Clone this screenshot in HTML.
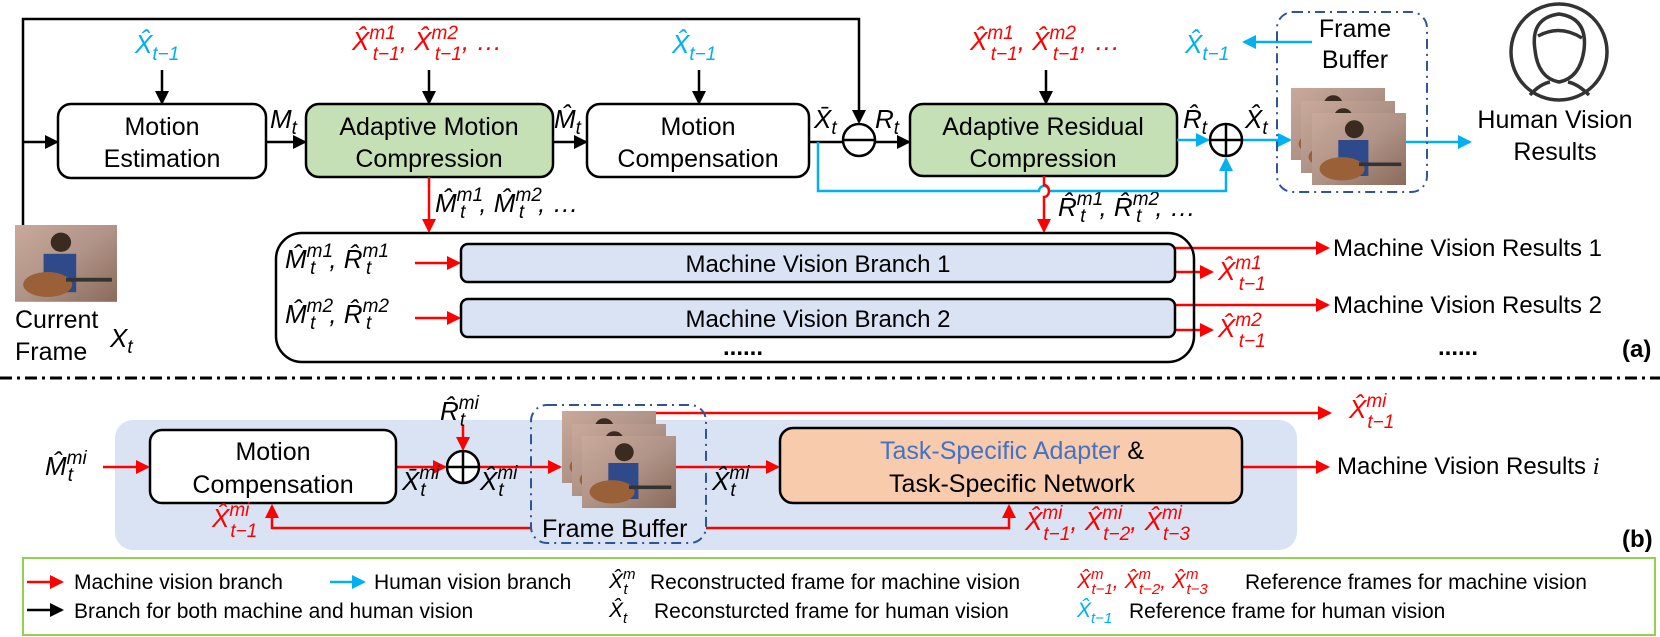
<!DOCTYPE html>
<html><head><meta charset="utf-8"><style>
html,body{margin:0;padding:0;background:#fff;}
svg{display:block;}
text{font-family:"Liberation Sans",sans-serif;}
.m{font-family:"Liberation Serif",serif;font-style:italic;}
.r{fill:#ff0000;} .b{fill:#00b0f0;}
</style></head><body>
<svg width="1660" height="637" viewBox="0 0 1660 637" xmlns="http://www.w3.org/2000/svg">
<defs>
<marker id="ak" markerWidth="14" markerHeight="14" refX="12" refY="7" orient="auto" markerUnits="userSpaceOnUse"><path d="M0,0 L14,7 L0,14 z" fill="#000"/></marker>
<marker id="ar" markerWidth="14" markerHeight="14" refX="12" refY="7" orient="auto" markerUnits="userSpaceOnUse"><path d="M0,0 L14,7 L0,14 z" fill="#ff0000"/></marker>
<marker id="ab" markerWidth="14" markerHeight="14" refX="12" refY="7" orient="auto" markerUnits="userSpaceOnUse"><path d="M0,0 L14,7 L0,14 z" fill="#00b0f0"/></marker>
<linearGradient id="img" x1="0" y1="0" x2="1" y2="1"><stop offset="0" stop-color="#c9a99a"/><stop offset="0.5" stop-color="#b09488"/><stop offset="1" stop-color="#8a6a5a"/></linearGradient>
<g id="pic"><rect width="100" height="80" fill="url(#img)"/><rect x="28" y="30" width="32" height="40" fill="#2f4a8a"/><circle cx="45" cy="18" r="10" fill="#3a2a20"/><ellipse cx="32" cy="62" rx="24" ry="13" fill="#9a6038"/><rect x="50" y="55" width="45" height="4" fill="#333"/></g>
</defs>

<!-- ===== (a) ===== -->
<g stroke="#000" stroke-width="2.5" fill="none">
<path d="M23,225 V19 H859 V122" marker-end="url(#ak)"/>
<path d="M23,142 H57" marker-end="url(#ak)"/>
<path d="M162,70 V103" marker-end="url(#ak)"/>
<path d="M429,70 V103" marker-end="url(#ak)"/>
<path d="M699,70 V103" marker-end="url(#ak)"/>
<path d="M1046,70 V103" marker-end="url(#ak)"/>
<path d="M266,142 H305" marker-end="url(#ak)"/>
<path d="M553,142 H586" marker-end="url(#ak)"/>
<path d="M809,142 H843"/>
<path d="M875,142 H909" marker-end="url(#ak)"/>
</g>
<rect x="58" y="104" width="208" height="74" rx="13" fill="#fff" stroke="#000" stroke-width="2.5"/>
<rect x="306" y="104" width="247" height="73" rx="13" fill="#c5e0b4" stroke="#000" stroke-width="2.5"/>
<rect x="587" y="104" width="222" height="73" rx="13" fill="#fff" stroke="#000" stroke-width="2.5"/>
<rect x="910" y="104" width="267" height="72" rx="13" fill="#c5e0b4" stroke="#000" stroke-width="2.5"/>
<circle cx="859" cy="140" r="16" fill="#fff" stroke="#000" stroke-width="2.5"/>
<line x1="843" y1="140" x2="875" y2="140" stroke="#000" stroke-width="2.5"/>
<g font-size="25" text-anchor="middle">
<text x="162" y="135">Motion</text><text x="162" y="167">Estimation</text>
<text x="429" y="135">Adaptive Motion</text><text x="429" y="167">Compression</text>
<text x="698" y="135">Motion</text><text x="698" y="167">Compensation</text>
<text x="1043" y="135">Adaptive Residual</text><text x="1043" y="167">Compression</text>
</g>
<g class="m" font-size="26">
<text x="135" y="53" class="b">X̂<tspan font-size="19" dy="7">t−1</tspan></text>
<text x="352" y="50" class="r">X̂<tspan font-size="19" dy="-11">m1</tspan><tspan font-size="19" dx="-23" dy="21">t−1</tspan><tspan dy="-10">, X̂</tspan><tspan font-size="19" dy="-11">m2</tspan><tspan font-size="19" dx="-23" dy="21">t−1</tspan><tspan dy="-10">, …</tspan></text>
<text x="672" y="53" class="b">X̂<tspan font-size="19" dy="7">t−1</tspan></text>
<text x="970" y="50" class="r">X̂<tspan font-size="19" dy="-11">m1</tspan><tspan font-size="19" dx="-23" dy="21">t−1</tspan><tspan dy="-10">, X̂</tspan><tspan font-size="19" dy="-11">m2</tspan><tspan font-size="19" dx="-23" dy="21">t−1</tspan><tspan dy="-10">, …</tspan></text>
<text x="1185" y="53" class="b">X̂<tspan font-size="19" dy="7">t−1</tspan></text>
<text x="270" y="128">M<tspan font-size="19" dy="6">t</tspan></text>
<text x="554" y="128">M̂<tspan font-size="19" dy="6">t</tspan></text>
<text x="814" y="128">X̄<tspan font-size="19" dy="6">t</tspan></text>
<text x="875" y="128">R<tspan font-size="19" dy="6">t</tspan></text>
<text x="1183" y="128">R̂<tspan font-size="19" dy="6">t</tspan></text>
<text x="1245" y="128">X̂<tspan font-size="19" dy="6">t</tspan></text>
<text x="435" y="212">M̂<tspan font-size="19" dy="-11">m1</tspan><tspan font-size="19" dx="-23" dy="17">t</tspan><tspan dy="-6" dx="14">, M̂</tspan><tspan font-size="19" dy="-11">m2</tspan><tspan font-size="19" dx="-23" dy="17">t</tspan><tspan dy="-6" dx="14">, …</tspan></text>
<text x="1058" y="216">R̂<tspan font-size="19" dy="-11">m1</tspan><tspan font-size="19" dx="-23" dy="17">t</tspan><tspan dy="-6" dx="14">, R̂</tspan><tspan font-size="19" dy="-11">m2</tspan><tspan font-size="19" dx="-23" dy="17">t</tspan><tspan dy="-6" dx="14">, …</tspan></text>
<text x="285" y="268">M̂<tspan font-size="19" dy="-11">m1</tspan><tspan font-size="19" dx="-23" dy="17">t</tspan><tspan dy="-6" dx="14">, R̂</tspan><tspan font-size="19" dy="-11">m1</tspan><tspan font-size="19" dx="-23" dy="17">t</tspan></text>
<text x="285" y="323">M̂<tspan font-size="19" dy="-11">m2</tspan><tspan font-size="19" dx="-23" dy="17">t</tspan><tspan dy="-6" dx="14">, R̂</tspan><tspan font-size="19" dy="-11">m2</tspan><tspan font-size="19" dx="-23" dy="17">t</tspan></text>
<text x="1218" y="280" class="r">X̂<tspan font-size="19" dy="-11">m1</tspan><tspan font-size="19" dx="-23" dy="21">t−1</tspan></text>
<text x="1218" y="337" class="r">X̂<tspan font-size="19" dy="-11">m2</tspan><tspan font-size="19" dx="-23" dy="21">t−1</tspan></text>
<text x="110" y="347">X<tspan font-size="19" dy="6">t</tspan></text>
</g>
<!-- blue paths -->
<g stroke="#00b0f0" stroke-width="2.5" fill="none">
<path d="M818,142 V191 H1039 a5,5 0 0 1 10,0 H1226 V159" marker-end="url(#ab)"/>
<path d="M1177,140 H1208" marker-end="url(#ab)"/>
<path d="M1242,140 H1290" marker-end="url(#ab)"/>
<path d="M1312,42 H1244" marker-end="url(#ab)"/>
<path d="M1406,142 H1470" marker-end="url(#ab)"/>
</g>
<circle cx="1226" cy="140" r="16" fill="#fff" stroke="#000" stroke-width="2.5"/>
<path d="M1210,140 H1242 M1226,124 V156" stroke="#000" stroke-width="2.5"/>
<rect x="1277" y="12" width="150" height="180" rx="16" fill="none" stroke="#2f5597" stroke-width="2" stroke-dasharray="10,5,2,5"/>
<text x="1355" y="37" font-size="25" text-anchor="middle">Frame</text>
<text x="1355" y="68" font-size="25" text-anchor="middle">Buffer</text>
<use href="#pic" transform="translate(1291,88) scale(0.94,0.9)"/>
<use href="#pic" transform="translate(1301,101) scale(0.94,0.9)"/>
<use href="#pic" transform="translate(1312,113) scale(0.94,0.9)"/>
<!-- human icon -->
<g fill="none" stroke="#333" stroke-width="3.5">
<circle cx="1559" cy="52" r="48"/>
<path d="M1535,50 Q1530,18 1559,14 Q1588,18 1584,50 Q1580,78 1559,82 Q1538,78 1535,50 Z"/>
<path d="M1530,95 Q1540,84 1550,82 M1589,95 Q1578,84 1568,82"/>
<path d="M1538,36 Q1560,24 1582,38"/>
</g>
<g font-size="25" text-anchor="middle"><text x="1555" y="128">Human Vision</text><text x="1555" y="160">Results</text></g>
<use href="#pic" transform="translate(15,225) scale(1.02,0.96)"/>
<text x="15" y="328" font-size="25">Current</text>
<text x="15" y="360" font-size="25">Frame</text>
<g stroke="#ff0000" stroke-width="2.5" fill="none">
<path d="M429,177 V231" marker-end="url(#ar)"/>
<path d="M1044,176 V185 a5,6 0 0 1 0,12 V231" marker-end="url(#ar)"/>
<path d="M415,263 H459" marker-end="url(#ar)"/>
<path d="M415,318 H459" marker-end="url(#ar)"/>
<path d="M1175,248 H1328" marker-end="url(#ar)"/>
<path d="M1175,272 H1212" marker-end="url(#ar)"/>
<path d="M1175,305 H1328" marker-end="url(#ar)"/>
<path d="M1175,330 H1212" marker-end="url(#ar)"/>
</g>
<rect x="276" y="233" width="918" height="129" rx="26" fill="none" stroke="#000" stroke-width="2.5"/>
<rect x="461" y="244" width="714" height="38" rx="7" fill="#dae3f3" stroke="#000" stroke-width="2.5"/>
<rect x="461" y="299" width="714" height="38" rx="7" fill="#dae3f3" stroke="#000" stroke-width="2.5"/>
<g font-size="24" text-anchor="middle"><text x="818" y="272">Machine Vision Branch 1</text><text x="818" y="327">Machine Vision Branch 2</text></g>
<g font-size="24"><text x="1333" y="256">Machine Vision Results 1</text><text x="1333" y="313">Machine Vision Results 2</text></g>
<g font-size="24" font-weight="bold"><text x="723" y="355">......</text><text x="1438" y="355">......</text><text x="1622" y="357">(a)</text></g>
<line x1="0" y1="378" x2="1660" y2="378" stroke="#000" stroke-width="3" stroke-dasharray="12,5,3,5"/>

<!-- ===== (b) ===== -->
<rect x="115" y="420" width="1182" height="130" rx="18" fill="#dae3f3"/>
<g stroke="#ff0000" stroke-width="2.5" fill="none">
<path d="M103,467 H148" marker-end="url(#ar)"/>
<path d="M396,467 H445" marker-end="url(#ar)"/>
<path d="M463,425 V449" marker-end="url(#ar)"/>
<path d="M479,467 H560" marker-end="url(#ar)"/>
<path d="M676,467 H778" marker-end="url(#ar)"/>
<path d="M1242,467 H1328" marker-end="url(#ar)"/>
<path d="M650,413 H1330" marker-end="url(#ar)"/>
<path d="M531,528 H272 V506" marker-end="url(#ar)"/>
<path d="M706,528 H1009 V506" marker-end="url(#ar)"/>
</g>
<rect x="150" y="430" width="246" height="73" rx="12" fill="#fff" stroke="#000" stroke-width="2.5"/>
<g font-size="25" text-anchor="middle"><text x="273" y="460">Motion</text><text x="273" y="493">Compensation</text></g>
<circle cx="463" cy="467" r="16" fill="#fff" stroke="#000" stroke-width="2.5"/>
<path d="M447,467 H479 M463,451 V483" stroke="#000" stroke-width="2.5"/>
<rect x="531" y="405" width="175" height="138" rx="16" fill="none" stroke="#2f5597" stroke-width="2" stroke-dasharray="10,5,2,5"/>
<use href="#pic" transform="translate(562,411) scale(0.94,0.9)"/>
<use href="#pic" transform="translate(572,424) scale(0.94,0.9)"/>
<use href="#pic" transform="translate(582,436) scale(0.94,0.9)"/>
<text x="542" y="537" font-size="25">Frame Buffer</text>
<rect x="780" y="428" width="462" height="75" rx="13" fill="#f8cbad" stroke="#000" stroke-width="2.5"/>
<g font-size="25" text-anchor="middle"><text x="1012" y="459"><tspan fill="#4472c4">Task-Specific Adapter</tspan> &amp;</text><text x="1012" y="492">Task-Specific Network</text></g>
<text x="1337" y="474" font-size="24">Machine Vision Results <tspan class="m">i</tspan></text>
<g class="m" font-size="26">
<text x="45" y="475">M̂<tspan font-size="19" dy="-11">mi</tspan><tspan font-size="19" dx="-19" dy="17">t</tspan></text>
<text x="440" y="420">R̂<tspan font-size="19" dy="-11">mi</tspan><tspan font-size="19" dx="-19" dy="17">t</tspan></text>
<text x="402" y="490">X̄<tspan font-size="19" dy="-11">mi</tspan><tspan font-size="19" dx="-19" dy="17">t</tspan></text>
<text x="480" y="490">X̂<tspan font-size="19" dy="-11">mi</tspan><tspan font-size="19" dx="-19" dy="17">t</tspan></text>
<text x="712" y="490">X̂<tspan font-size="19" dy="-11">mi</tspan><tspan font-size="19" dx="-19" dy="17">t</tspan></text>
<text x="212" y="527" class="r">X̂<tspan font-size="19" dy="-11">mi</tspan><tspan font-size="19" dx="-19" dy="21">t−1</tspan></text>
<text x="1349" y="418" class="r">X̂<tspan font-size="19" dy="-11">mi</tspan><tspan font-size="19" dx="-19" dy="21">t−1</tspan></text>
<text x="1025" y="530" class="r">X̂<tspan font-size="19" dy="-11">mi</tspan><tspan font-size="19" dx="-19" dy="21">t−1</tspan><tspan dy="-10">, X̂</tspan><tspan font-size="19" dy="-11">mi</tspan><tspan font-size="19" dx="-19" dy="21">t−2</tspan><tspan dy="-10">, X̂</tspan><tspan font-size="19" dy="-11">mi</tspan><tspan font-size="19" dx="-19" dy="21">t−3</tspan></text>
</g>
<text x="1622" y="547" font-size="24" font-weight="bold">(b)</text>

<!-- legend -->
<rect x="23" y="558" width="1632" height="77" fill="#fff" stroke="#92d050" stroke-width="2"/>
<g stroke-width="2.5" fill="none">
<path d="M27,582 H62" stroke="#ff0000" marker-end="url(#ar)"/>
<path d="M330,582 H364" stroke="#00b0f0" marker-end="url(#ab)"/>
<path d="M27,610 H62" stroke="#000" marker-end="url(#ak)"/>
</g>
<g font-size="21">
<text x="74" y="589">Machine vision branch</text>
<text x="374" y="589">Human vision branch</text>
<text x="650" y="589">Reconstructed frame for machine vision</text>
<text x="1245" y="589">Reference frames for machine vision</text>
<text x="74" y="618">Branch for both machine and human vision</text>
<text x="654" y="618">Reconsturcted frame for human vision</text>
<text x="1129" y="618">Reference frame for human vision</text>
</g>
<g class="m" font-size="21">
<text x="609" y="588">X̂<tspan font-size="15" dy="-9">m</tspan><tspan font-size="15" dx="-12" dy="15">t</tspan></text>
<text x="1077" y="588" class="r">X̂<tspan font-size="15" dy="-9">m</tspan><tspan font-size="15" dx="-12" dy="15">t−1</tspan><tspan dy="-6">, X̂</tspan><tspan font-size="15" dy="-9">m</tspan><tspan font-size="15" dx="-12" dy="15">t−2</tspan><tspan dy="-6">, X̂</tspan><tspan font-size="15" dy="-9">m</tspan><tspan font-size="15" dx="-12" dy="15">t−3</tspan></text>
<text x="609" y="617">X̂<tspan font-size="15" dy="6">t</tspan></text>
<text x="1077" y="617" class="b">X̂<tspan font-size="15" dy="6">t−1</tspan></text>
</g>
</svg>
</body></html>
